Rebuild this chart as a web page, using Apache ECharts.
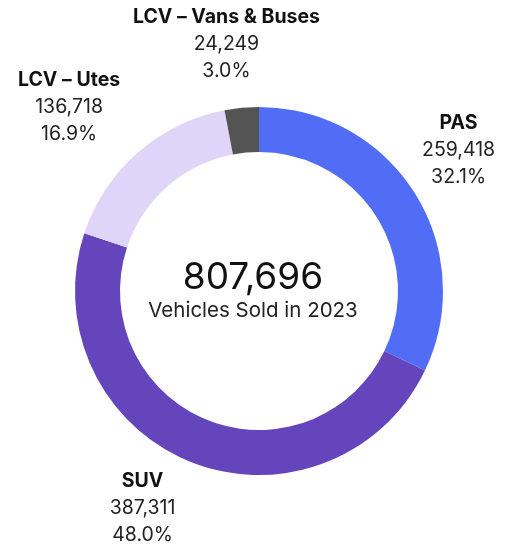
<!DOCTYPE html>
<html>
<head>
<meta charset="utf-8">
<style>
html,body{margin:0;padding:0;background:#fff;}
#chart{width:507px;height:546px;}
</style>
<script src="https://cdn.jsdelivr.net/npm/echarts@6/dist/echarts.min.js"></script>
</head>
<body>
<div id="chart"></div>
<script>
var categories = ['PAS', 'SUV', 'LCV – Utes', 'LCV – Vans & Buses'];
var values = [259418, 387311, 136718, 24249];
var percents = ['32.1%', '48.0%', '16.9%', '3.0%'];
var colors = ['#526DF5', '#6445BC', '#DFD5F8', '#545454'];
var totalText = '807,696';
var subtitle = 'Vehicles Sold in 2023';

// layout (not data): label nudges from the radial anchor point
var labelNudge = [[-12, -8], [-23, -15], [-25, 4], [-9, 2]];

var FONT = 'Inter, "Noto Sans", sans-serif';
var CX = 259, CY = 291, R_IN = 139, R_OUT = 184, LABEL_R = 250;
var total = values.reduce(function (a, b) { return a + b; }, 0);
var mids = [];
var acc = 0;
values.forEach(function (v) {
  var mid = 90 - (acc + v / 2) / total * 360;
  mids.push(mid);
  acc += v;
});

function fmt(n) { return n.toLocaleString('en-US'); }

var chart = echarts.init(document.getElementById('chart'));
chart.setOption({
  animation: false,
  series: [{
    type: 'pie',
    center: [CX, CY],
    radius: [R_IN, R_OUT],
    startAngle: 90,
    clockwise: true,
    silent: true,
    itemStyle: { borderWidth: 0 },
    label: {
      show: true,
      position: 'outside',
      overflow: 'none',
      formatter: function (p) {
        return '{b|' + p.name + '}\n{v|' + fmt(p.value) + '}\n{v|' + percents[p.dataIndex] + '}';
      },
      rich: {
        b: { fontFamily: FONT, fontSize: 19.5, fontWeight: 'bold', color: '#111', lineHeight: 27, align: 'center' },
        v: { fontFamily: FONT, fontSize: 19.5, color: '#222', lineHeight: 27, align: 'center' }
      }
    },
    labelLine: { show: false },
    labelLayout: function (params) {
      var i = params.dataIndex;
      var a = mids[i] * Math.PI / 180;
      return {
        x: CX + LABEL_R * Math.cos(a) + labelNudge[i][0],
        y: CY - LABEL_R * Math.sin(a) + labelNudge[i][1],
        align: 'center',
        verticalAlign: 'middle'
      };
    },
    data: categories.map(function (c, i) {
      return { name: c, value: values[i], itemStyle: { color: colors[i] } };
    })
  }, {
    type: 'pie',
    center: [CX, CY],
    radius: [0, 0],
    silent: true,
    label: {
      show: true,
      position: 'center',
      offset: [-6, 0],
      formatter: '{t|' + totalText + '}\n{s|' + subtitle + '}',
      rich: {
        t: { fontFamily: FONT, fontSize: 37, color: '#111', lineHeight: 40, align: 'center' },
        s: { fontFamily: FONT, fontSize: 20.5, color: '#222', lineHeight: 26, align: 'center' }
      }
    },
    labelLine: { show: false },
    data: [{ name: 'total', value: 1, itemStyle: { color: 'transparent' } }]
  }]
});
</script>
</body>
</html>
